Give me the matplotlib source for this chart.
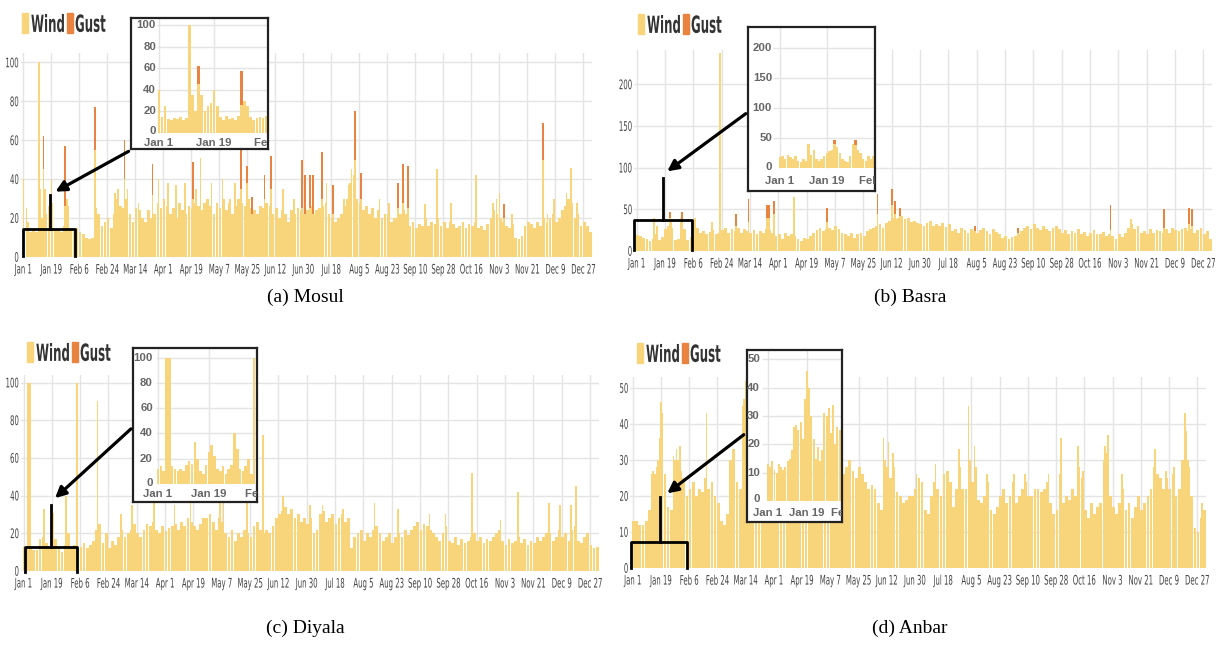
import numpy as np
import matplotlib
matplotlib.use('Agg')
import matplotlib.pyplot as plt
from matplotlib import font_manager
from matplotlib.patches import Rectangle, FancyArrowPatch
from matplotlib.lines import Line2D
from matplotlib.patheffects import AbstractPathEffect
from matplotlib.transforms import Affine2D

W, H = 1220, 650

tick_days = list(range(0, 361, 18))
tick_labels = ['Jan 1', 'Jan 19', 'Feb 6', 'Feb 24', 'Mar 14', 'Apr 1', 'Apr 19', 'May 7',
               'May 25', 'Jun 12', 'Jun 30', 'Jul 18', 'Aug 5', 'Aug 23', 'Sep 10', 'Sep 28',
               'Oct 16', 'Nov 3', 'Nov 21', 'Dec 9', 'Dec 27']
inset_tick_days = [0, 18, 36]
inset_tick_labels = ['Jan 1', 'Jan 19', 'Feb 6']

# ---- Mosul ----  (wind in 2-day bins, single-day spikes, gust days)
wind_a = [15, 18, 13, 14, 13, 20, 20, 22, 26, 28, 14, 14, 13, 16, 26, 14, 14, 15,
          13, 12, 10, 9, 10, 25, 22, 16, 18, 20, 15, 22, 30, 26, 25, 30, 22, 18, 25, 24,
          20, 18, 24, 20, 22, 28, 25, 30, 26, 22, 25, 20, 28, 24, 22, 26, 25, 28, 26,
          24, 28, 30, 26, 22, 28, 25, 30, 24, 28, 22, 26, 30, 28, 26, 30, 25, 24, 22, 26,
          25, 28, 26, 22, 25, 20, 24, 22, 18, 24, 22, 25, 24, 22, 24, 26, 22, 24,
          25, 26, 28, 22, 20, 18, 20, 22, 26, 30, 38, 42, 30, 28, 24, 26, 22, 25, 20,
          24, 20, 22, 22, 18, 20, 20, 22, 24, 22, 16, 18, 15, 17, 16, 20, 16, 18, 17, 20,
          16, 18, 15, 18, 17, 15, 16, 18, 15, 17, 16, 18, 15, 16, 14, 17,
          20, 24, 22, 20, 18, 16, 15, 17, 10, 9, 11, 16, 18, 17, 15, 18, 16,
          20, 18, 20, 22, 18, 20, 24, 26, 30, 28, 20, 22, 16, 18, 16, 13]
peak_a_day = [0, 2, 10, 11, 14, 18, 28, 59, 61, 67, 74, 87, 93, 98, 104, 111, 114, 121, 128,
              133, 136, 167, 174, 195, 206, 209, 211, 229, 235, 258, 266, 275, 291, 302, 304,
              306, 314, 337, 341, 349, 352, 356]
peak_a_val = [40, 25, 100, 35, 35, 40, 30, 33, 35, 35, 28, 40, 38, 37, 38, 35, 51, 38, 40,
              30, 38, 35, 30, 38, 30, 37, 45, 30, 28, 27, 45, 28, 42, 28, 30,
              33, 22, 22, 30, 33, 46, 28]
gust_a_day = [13, 27, 46, 65, 83, 109, 140, 144, 147, 155, 159, 179, 181, 184, 186, 192,
              199, 213, 217, 241, 244, 247, 309, 334]
gust_a_wind = [45, 26, 55, 40, 32, 30, 35, 38, 22, 30, 35, 25, 22, 25, 22, 30,
               22, 50, 30, 25, 28, 25, 20, 50]
gust_a_top = [62, 57, 77, 60, 48, 49, 57, 47, 31, 42, 52, 50, 42, 42, 42, 54,
              37, 75, 43, 38, 48, 47, 27, 69]
inset_a = [40, 15, 25, 13, 12, 14, 13, 15, 12, 14, 100, 35, 20, 45, 35, 20, 25, 28,
           40, 25, 15, 12, 16, 13, 14, 12, 16, 26, 30, 25, 15, 12, 14, 15, 14, 16]

# ---- Basra ----
wind_b = [19, 18, 16, 15, 12, 14, 20, 13, 17, 26, 30, 28, 13, 15, 30, 27, 13, 17, 22,
          28, 22, 24, 20, 23, 25, 20, 22, 25, 28, 22, 26, 24, 28, 22, 26,
          24, 22, 25, 20, 24, 22, 26, 25, 22, 18, 20, 15, 22, 18, 20,
          18, 14, 12, 16, 15, 18, 22, 25, 28, 24, 26, 28, 25, 30, 26, 22,
          20, 18, 22, 16, 20, 22, 18, 24, 26, 28, 30, 32, 28, 34, 36, 40, 38, 40,
          42, 38, 40, 35, 36, 34, 32, 30, 34, 36, 30, 32, 30, 34, 29, 32,
          24, 26, 22, 28, 25, 22, 26, 24, 22, 25, 28, 24, 20, 26, 23, 21,
          16, 18, 15, 17, 18, 20, 24, 28, 30, 26, 32, 28, 25, 30, 27, 24, 28, 30, 26,
          22, 25, 20, 24, 22, 26, 20, 23, 18, 22, 25, 21, 20, 23, 18, 20,
          18, 15, 20, 17, 22, 28, 32, 26, 30, 22, 24, 20, 26, 22, 25, 24,
          22, 26, 22, 28, 25, 24, 26, 28, 24, 26, 22, 25, 28, 20, 24, 15]
peak_b_day = [11, 13, 20, 22, 28, 37, 48, 53, 100, 314]
peak_b_val = [40, 30, 30, 35, 40, 40, 35, 238, 65, 38]
gust_b_day = [21, 29, 63, 71, 83, 84, 87, 121, 153, 162, 164, 167, 215, 242, 301, 335, 351, 353]
gust_b_wind = [40, 38, 30, 35, 40, 40, 45, 35, 45, 55, 45, 42, 24, 22, 25, 28, 32, 30]
gust_b_top = [47, 47, 45, 62, 55, 55, 60, 52, 68, 75, 60, 52, 30, 28, 55, 50, 52, 50]
inset_b = [18, 20, 15, 22, 18, 15, 20, 12, 10, 15, 12, 40, 22, 30, 15, 12, 15, 20, 25, 28,
           30, 40, 35, 25, 15, 12, 10, 20, 40, 38, 30, 25, 15, 12, 20, 15, 20, 40, 30, 25]

# ---- Diyala ----
wind_c = [13, 12, 13, 11, 11, 17, 18, 15, 12, 26, 17, 12, 10, 14, 20, 12, 14, 12,
          13, 15, 12, 14, 16, 22, 25, 15, 20, 12, 16, 14, 18, 22, 18, 20, 22, 25, 20,
          18, 22, 25, 24, 26, 22, 20, 24, 21, 23, 24, 25, 22, 26, 24, 28, 26,
          24, 22, 25, 28, 28, 30, 26, 22, 28, 26, 20, 18, 22, 16, 20, 18,
          22, 20, 18, 24, 26, 22, 20, 22, 20, 24, 28, 30, 32, 34, 30, 33,
          28, 30, 26, 28, 25, 28, 20, 22, 30, 32, 26, 28, 30, 25, 28, 30, 26, 28, 12,
          18, 20, 22, 16, 20, 18, 22, 24, 20, 16, 18, 20, 15, 18, 20, 18, 22, 19,
          22, 24, 26, 22, 25, 24, 22, 20, 18, 16, 20, 24, 16, 15, 18, 14, 17, 15, 16,
          18, 20, 16, 18, 15, 17, 16, 18, 20, 22, 16, 14, 17, 15, 16,
          18, 15, 17, 14, 16, 15, 18, 16, 18, 20, 20, 16, 18, 22, 18, 20, 16, 22, 24,
          16, 15, 18, 20, 14, 12, 13]
peak_c_day = [3, 4, 13, 19, 27, 34, 47, 62, 69, 83, 96, 106, 125, 127, 142, 152, 165, 182,
              190, 203, 223, 238, 258, 268, 285, 303, 314, 334, 341, 348, 351]
peak_c_val = [100, 100, 33, 31, 40, 100, 90, 30, 35, 38, 35, 40, 36, 38, 38, 72, 40, 35,
              35, 33, 36, 33, 30, 30, 52, 27, 42, 36, 35, 35, 45]
inset_c = [12, 14, 10, 100, 100, 14, 12, 10, 12, 10, 15, 18, 16, 33, 20, 10, 8, 15,
           25, 31, 22, 12, 10, 14, 8, 12, 15, 40, 28, 12, 10, 14, 20, 8, 100, 15]

# ---- Anbar ----
wind_d = [13, 13, 12, 12, 13, 16, 26, 26, 30, 43, 26, 17, 16, 30, 30, 27, 25, 20,
          22, 24, 20, 22, 21, 25, 22, 24, 20, 18, 13, 12, 15, 30, 33, 24, 22, 45, 50,
          22, 20, 18, 24, 22, 20, 25, 22, 18,
          20, 22, 18, 24, 21, 19, 23, 20, 22, 18, 24, 20, 22, 19, 21, 24, 20, 23, 18, 22, 25,
          26, 28, 30, 27, 25, 28, 26, 24, 22, 23, 22, 18, 16, 30, 28, 25, 28,
          21, 20, 18, 19, 20, 20, 22, 25, 24, 16, 15, 20, 24, 22, 20, 26, 27, 24, 17, 22,
          28, 22, 22, 30, 24, 28, 19, 18, 20, 24, 16, 15, 17, 20, 22, 18, 20, 24,
          18, 20, 22, 24, 20, 20, 22, 22, 21, 22, 24, 18, 15, 16, 26,
          18, 20, 19, 22, 20, 28, 25, 16, 14, 18, 15, 17, 18, 30, 32,
          20, 17, 15, 18, 22, 16, 18, 14, 17, 20, 16, 18, 20, 22, 28,
          26, 25, 22, 25, 22, 26, 20, 22, 30, 38, 28, 20, 11, 10, 14, 16]
peak_d_day = [12, 13, 15, 17, 18, 19, 26, 28, 30, 47, 62, 64, 71, 72, 138, 160, 163, 166,
              181, 193, 208, 214, 218, 226, 243, 250, 265, 273, 284, 287, 301, 303, 312,
              333, 340, 345, 352, 354, 363]
peak_d_val = [26, 27, 28, 36, 46, 40, 31, 33, 34, 43, 30, 33, 47, 52, 30, 36, 35, 32,
              26, 29, 33, 45, 34, 26, 26, 26, 26, 36, 34, 27, 34, 37, 26,
              33, 27, 28, 43, 30, 18]
inset_d = [13, 12, 14, 11, 10, 13, 12, 11, 12, 14, 15, 18, 26, 27, 25, 28, 22, 36,
           46, 40, 30, 22, 15, 19, 14, 18, 31, 30, 33, 24, 34, 20, 26, 25, 14, 26]

WIND = '#F8D47A'
GUST = '#E8843F'
GRID = '#E4E4E4'

names = {f.name for f in font_manager.fontManager.ttflist}
SANS = 'Liberation Sans' if 'Liberation Sans' in names else 'DejaVu Sans'
SERIF = 'Liberation Serif' if 'Liberation Serif' in names else 'DejaVu Serif'


class Tall(AbstractPathEffect):
    """stretch glyphs vertically: a small font drawn tall gives a condensed face"""

    def __init__(self, sy=1.9, anchor='center'):
        super().__init__()
        self.sy = sy
        self.anchor = anchor

    def draw_path(self, renderer, gc, tpath, affine, rgbFace=None):
        ext = tpath.get_extents()
        if self.anchor == 'top':
            cy = ext.y1
        elif self.anchor == 'bottom':
            cy = ext.y0
        else:
            cy = (ext.y0 + ext.y1) / 2
        t = Affine2D().translate(0, -cy).scale(1, self.sy).translate(0, cy) + affine
        renderer.draw_path(gc, tpath, t, rgbFace)


def px_axes(fig, x0, x1, y0, y1, day0, ppd, base, ppu):
    # axes whose data coords line up with a pixel mapping
    ax = fig.add_axes([x0 / W, 1 - y1 / H, (x1 - x0) / W, (y1 - y0) / H])
    ax.set_xlim((x0 - day0) / ppd, (x1 - day0) / ppd)
    ax.set_ylim((base - y1) / ppu, (base - y0) / ppu)
    return ax


def fpt(x, y):
    return (x / W, 1 - y / H)


def draw_wind(ax, wind, pdays, pvals, gdays, gwind, gtop):
    ax.bar(np.arange(len(wind)) * 2 + 0.5, wind, width=1.75, color=WIND, linewidth=0, zorder=2)
    ax.bar(pdays, pvals, width=1.0, color=WIND, linewidth=0, zorder=2)
    if gdays:
        ax.bar(gdays, gwind, width=1.2, color=WIND, linewidth=0, zorder=2)
        ax.bar(gdays, np.subtract(gtop, gwind), bottom=gwind, width=1.2, color=GUST,
               linewidth=0, zorder=3)


def main_panel(fig, day0, ppd, base, ppu, top, yticks, wind, pdays, pvals,
               gdays=(), gwind=(), gtop=()):
    ax = px_axes(fig, day0 - 1.5 * ppd, day0 + 365.5 * ppd, top, base, day0, ppd, base, ppu)
    draw_wind(ax, wind, pdays, pvals, list(gdays), list(gwind), list(gtop))
    ax.set_xticks(tick_days, tick_labels)
    ax.set_yticks(yticks)
    ax.grid(True, color=GRID, lw=1)
    ax.set_axisbelow(True)
    for s in ax.spines.values():
        s.set_visible(False)
    ax.tick_params(axis='x', length=0, labelsize=5.0, labelcolor='#444', pad=5)
    ax.tick_params(axis='y', length=0, labelsize=5.0, labelcolor='#444', pad=1.5)
    for lab in ax.get_xticklabels():
        lab.set_path_effects([Tall(1.9, 'top')])
    for lab in ax.get_yticklabels():
        lab.set_path_effects([Tall(1.9, 'center')])
    return ax


def inset_panel(fig, box, day0, ppd, base, ppu, plot_left, ylab_x, xlab_y, yticks,
                vals, gdays=(), gwind=(), gtop=()):
    x0, x1, y0, y1 = box
    ax = px_axes(fig, x0, x1, y0, y1, day0, ppd, base, ppu)
    ax.set_xticks([])
    ax.set_yticks([])
    for s in ax.spines.values():
        s.set_color('#222')
        s.set_linewidth(1.6)
    xl = ax.get_xlim()
    yl = ax.get_ylim()
    left_day = (plot_left - day0) / ppd
    ax.hlines(yticks[1:], left_day, xl[1], color=GRID, lw=1, zorder=0)
    ax.vlines(inset_tick_days, 0, yl[1], color=GRID, lw=1, zorder=0)
    ax.bar(np.arange(len(vals)), vals, width=0.9, color=WIND, linewidth=0, zorder=2)
    for d, w, t in zip(gdays, gwind, gtop):
        if d < len(vals):
            ax.bar(d, t - w, bottom=w, width=0.9, color=GUST, linewidth=0, zorder=3)
    lx = (ylab_x - day0) / ppd
    for v in yticks:
        # the zero label sits a touch higher so it clears "Jan 1"
        vy = v + (1.5 / ppu if v == 0 else 0)
        ax.text(lx, vy, str(v), ha='right', va='center', fontsize=8.2, color='#666',
                fontweight='bold', family=SANS, clip_on=True)
    ly = (base - xlab_y - 1) / ppu
    for d, lab in zip(inset_tick_days, inset_tick_labels):
        ax.text(d, ly, lab, ha='center', va='center', fontsize=8.2, color='#666',
                fontweight='bold', family=SANS, clip_on=True)
    return ax


def brace(fig, xl, xr, yh, ybot, xs, ytop):
    fig.add_artist(Line2D([xl / W, xl / W, xr / W, xr / W],
                          [1 - ybot / H, 1 - yh / H, 1 - yh / H, 1 - ybot / H],
                          transform=fig.transFigure, color='black', lw=2, zorder=10))
    fig.add_artist(Line2D([xs / W, xs / W], [1 - yh / H, 1 - ytop / H],
                          transform=fig.transFigure, color='black', lw=2, zorder=10))


def arrow(fig, start, end):
    fig.add_artist(FancyArrowPatch(fpt(*start), fpt(*end), transform=fig.transFigure,
                                   arrowstyle='-|>', mutation_scale=16, lw=2.3,
                                   color='black', zorder=11))


def legend(fig, x, y):
    fig.add_artist(Rectangle(fpt(x, y + 10), 6 / W, 20 / H, transform=fig.transFigure,
                             color=WIND, zorder=10))
    t = fig.text(*fpt(x + 9, y + 1), 'Wind', ha='left', va='center', fontsize=8.5,
                 fontweight='bold', color='#333')
    t.set_path_effects([Tall(2.0, 'center')])
    fig.add_artist(Rectangle(fpt(x + 45, y + 10), 6 / W, 20 / H, transform=fig.transFigure,
                             color=GUST, zorder=10))
    t = fig.text(*fpt(x + 53, y + 1), 'Gust', ha='left', va='center', fontsize=8.5,
                 fontweight='bold', color='#333')
    t.set_path_effects([Tall(2.0, 'center')])


fig = plt.figure(figsize=(W / 100, H / 100), dpi=100)

# (a) Mosul
main_panel(fig, 23.3, 1.556, 257, 1.945, 53, [0, 20, 40, 60, 80, 100],
           wind_a, peak_a_day, peak_a_val, gust_a_day, gust_a_wind, gust_a_top)
inset_panel(fig, (131, 268, 18, 149), 159, 3.06, 133, 1.08, 157, 156, 142,
            [0, 20, 40, 60, 80, 100], inset_a, gust_a_day, gust_a_wind, gust_a_top)

# (b) Basra
main_panel(fig, 636.7, 1.574, 251, 0.833, 50, [0, 50, 100, 150, 200],
           wind_b, peak_b_day, peak_b_val, gust_b_day, gust_b_wind, gust_b_top)
inset_panel(fig, (748, 875, 27, 191), 780, 2.6, 168, 0.6, 773, 772, 180,
            [0, 50, 100, 150, 200], inset_b, gust_b_day, gust_b_wind, gust_b_top)

# (c) Diyala
main_panel(fig, 23.5, 1.574, 571, 1.884, 375, [0, 20, 40, 60, 80, 100],
           wind_c, peak_c_day, peak_c_val)
inset_panel(fig, (133, 257, 348, 502), 158, 2.83, 484, 1.265, 156, 153, 493,
            [0, 20, 40, 60, 80, 100], inset_c)

# (d) Anbar
main_panel(fig, 632.8, 1.568, 568, 3.6, 377, [0, 10, 20, 30, 40, 50],
           wind_d, peak_d_day, peak_d_val)
inset_panel(fig, (747, 842, 350, 522), 768, 2.17, 501, 2.83, 762, 760, 512,
            [0, 10, 20, 30, 40, 50], inset_d)

brace(fig, 23, 75, 229, 256, 50, 195)
arrow(fig, (131, 150), (53, 193))
brace(fig, 634, 692, 220, 250, 663, 178)
arrow(fig, (748, 112), (665, 173))
brace(fig, 25, 77, 547, 572, 51, 505)
arrow(fig, (133, 427), (53, 500))
brace(fig, 631, 687, 542, 568, 660, 497)
arrow(fig, (746, 433), (665, 495))

legend(fig, 22, 23)
legend(fig, 638, 24)
legend(fig, 27, 352)
legend(fig, 637, 353)

for x, y, t in [(305, 297, '(a) Mosul'), (910, 297, '(b) Basra'),
                (305, 628, '(c) Diyala'), (910, 628, '(d) Anbar')]:
    fig.text(*fpt(x, y), t, ha='center', va='center', fontsize=14, family=SERIF, color='black')

fig.savefig('out.png', dpi=100)
